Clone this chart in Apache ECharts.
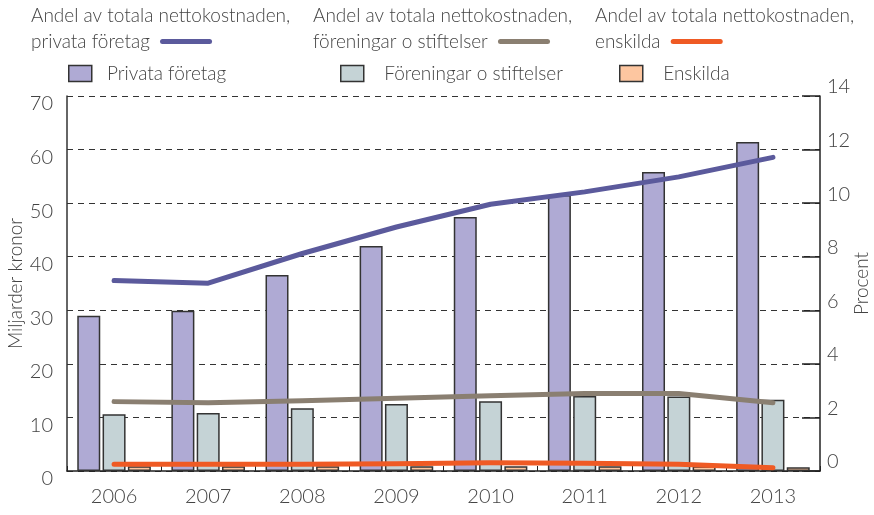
<!DOCTYPE html>
<html>
<head>
<meta charset="utf-8">
<script src="https://cdn.jsdelivr.net/npm/echarts@6/dist/echarts.min.js"></script>
<style>
html,body{margin:0;padding:0;background:#fff;}
#chart{width:874px;height:515px;}
</style>
</head>
<body>
<div id="chart"></div>
<script>
var years = ['2006','2007','2008','2009','2010','2011','2012','2013'];
var barPrivata = [29.0, 29.9, 36.6, 42.0, 47.4, 51.5, 55.8, 61.4];
var barForeningar = [10.6, 10.85, 11.7, 12.5, 13.0, 14.0, 13.9, 13.3];
var barEnskilda = [0.9, 0.9, 0.9, 0.9, 0.9, 0.9, 0.9, 0.7];
var andelPrivata = [7.11, 7.01, 8.12, 9.11, 9.96, 10.42, 10.98, 11.71];
var andelForeningar = [2.59, 2.55, 2.62, 2.72, 2.81, 2.89, 2.89, 2.55];
var andelEnskilda = [0.25, 0.25, 0.25, 0.27, 0.31, 0.29, 0.25, 0.12];
var leftTicks = {min: 0, max: 70, interval: 10};
var rightTicks = {min: 0, max: 14, interval: 2};
var lineLegendFirst = 'Andel av totala nettokostnaden,';
var lineNames = ['privata företag', 'föreningar o stiftelser', 'enskilda'];
var barNames = ['Privata företag', 'Föreningar o stiftelser', 'Enskilda'];

var FONT = 'Lato';
var TXT = '#444';
var cPurpleBar = '#afaad4', cGreyBar = '#c5d3d6', cOrangeBar = '#fdc6a0';
var cPurpleLine = '#5b5a9c', cGreyLine = '#8a7f71', cOrangeLine = '#ef5a24';
var lineIcon = 'path://M2.5,0 L49.5,0 A2.5,2.5 0 0 1 49.5,5 L2.5,5 A2.5,2.5 0 0 1 2.5,0 Z';

function lineLegend(name, left) {
  return {
    data: [name], left: left, top: 32, orient: 'horizontal', align: 'right',
    padding: 0, itemWidth: 52, itemHeight: 5, icon: lineIcon,
    formatter: function (n) { return n + ' '; },
    textStyle: {fontFamily: FONT, fontSize: 19, fontWeight: 300, color: TXT},
    selectedMode: false
  };
}
function barLegend(name, left, spaces) {
  return {
    data: [name], left: left, top: 64, padding: 0, itemWidth: 23, itemHeight: 16,
    icon: 'rect',
    formatter: function (n) { return spaces + n; },
    itemStyle: {borderColor: '#333', borderWidth: 1.5},
    textStyle: {fontFamily: FONT, fontSize: 19, fontWeight: 300, color: TXT},
    selectedMode: false
  };
}

var chart = echarts.init(document.getElementById('chart'), null, {renderer: 'canvas'});
var barBase = {type: 'bar', yAxisIndex: 0, barWidth: 23, barGap: '10%'};
var lineBase = {type: 'line', yAxisIndex: 1, showSymbol: false, symbol: 'none', z: 5};

chart.setOption({
  animation: false,
  backgroundColor: '#fff',
  textStyle: {fontFamily: FONT},
  grid: {left: 67, right: 54, top: 96, bottom: 44, containLabel: false, outerBoundsMode: 'none'},
  graphic: [
    {type: 'text', left: 31, top: 6, style: {text: lineLegendFirst, font: '300 19px ' + FONT, fill: TXT}},
    {type: 'text', left: 313, top: 6, style: {text: lineLegendFirst, font: '300 19px ' + FONT, fill: TXT}},
    {type: 'text', left: 595, top: 6, style: {text: lineLegendFirst, font: '300 19px ' + FONT, fill: TXT}}
  ],
  legend: [
    lineLegend(lineNames[0], 31),
    lineLegend(lineNames[1], 313),
    lineLegend(lineNames[2], 595),
    barLegend(barNames[0], 68, '  '),
    barLegend(barNames[1], 340, '   '),
    barLegend(barNames[2], 619, '   ')
  ],
  xAxis: {
    type: 'category', data: years, boundaryGap: true,
    axisLine: {show: true, lineStyle: {color: '#222', width: 1.5}},
    axisTick: {show: true, inside: true, length: 5, lineStyle: {color: '#222', width: 1}},
    axisLabel: {fontFamily: FONT, fontSize: 20, fontWeight: 300, color: TXT, margin: 16}
  },
  yAxis: [
    {
      type: 'value', min: leftTicks.min, max: leftTicks.max, interval: leftTicks.interval,
      name: 'Miljarder kronor', nameLocation: 'middle', nameGap: 42, nameRotate: 90,
      nameMoveOverlap: false,
      nameTextStyle: {fontFamily: FONT, fontSize: 19, fontWeight: 300, color: TXT},
      axisLine: {show: true, lineStyle: {color: '#333', width: 1.5}},
      axisTick: {show: false},
      axisLabel: {fontFamily: FONT, fontSize: 20, fontWeight: 300, color: TXT, margin: 14,
        verticalAlign: 'top', lineHeight: 16},
      splitLine: {show: true, lineStyle: {color: '#333', width: 1, type: [6, 5]}}
    },
    {
      type: 'value', min: rightTicks.min, max: rightTicks.max, interval: rightTicks.interval,
      position: 'right',
      name: 'Procent', nameLocation: 'middle', nameGap: 32, nameRotate: 90,
      nameMoveOverlap: false,
      nameTextStyle: {fontFamily: FONT, fontSize: 19, fontWeight: 300, color: TXT},
      axisLine: {show: true, lineStyle: {color: '#222', width: 1.5}},
      axisTick: {show: true, inside: true, length: 18, lineStyle: {color: '#222', width: 1.5}},
      axisLabel: {fontFamily: FONT, fontSize: 20, fontWeight: 300, color: TXT, margin: 7,
        verticalAlign: 'bottom', lineHeight: 18},
      splitLine: {show: false}
    }
  ],
  series: [
    Object.assign({}, barBase, {name: barNames[0], data: barPrivata,
      itemStyle: {color: cPurpleBar, borderColor: '#333', borderWidth: 1.5}}),
    Object.assign({}, barBase, {name: barNames[1], data: barForeningar,
      itemStyle: {color: cGreyBar, borderColor: '#333', borderWidth: 1.5}}),
    Object.assign({}, barBase, {name: barNames[2], data: barEnskilda,
      itemStyle: {color: cOrangeBar, borderColor: '#333', borderWidth: 1.5}}),
    Object.assign({}, lineBase, {name: lineNames[0], data: andelPrivata, color: cPurpleLine,
      itemStyle: {color: cPurpleLine}, lineStyle: {color: cPurpleLine, width: 5, cap: 'round', join: 'round'}}),
    Object.assign({}, lineBase, {name: lineNames[1], data: andelForeningar, color: cGreyLine,
      itemStyle: {color: cGreyLine}, lineStyle: {color: cGreyLine, width: 5, cap: 'round', join: 'round'}}),
    Object.assign({}, lineBase, {name: lineNames[2], data: andelEnskilda, color: cOrangeLine,
      itemStyle: {color: cOrangeLine}, lineStyle: {color: cOrangeLine, width: 5, cap: 'round', join: 'round'}})
  ]
});
</script>
</body>
</html>
